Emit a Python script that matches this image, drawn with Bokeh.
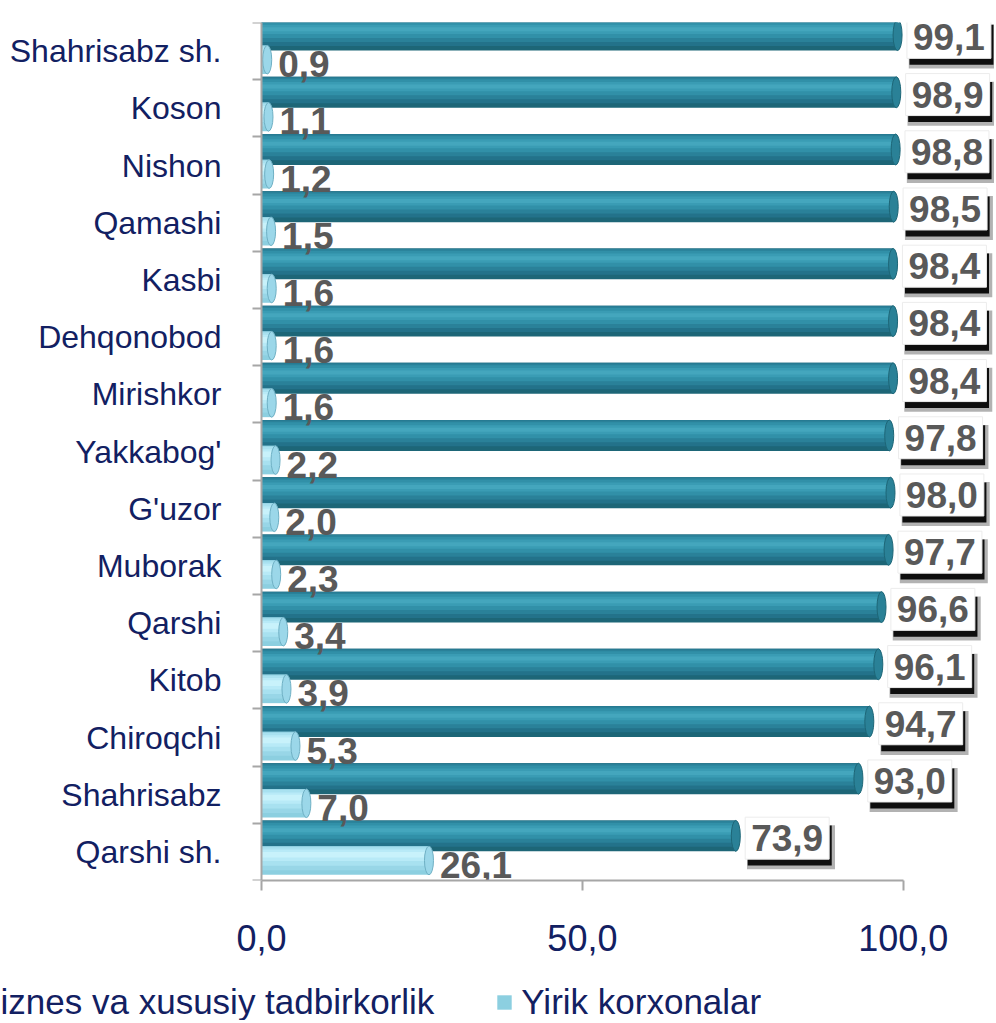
from bokeh.plotting import figure
from bokeh.models import (ColumnDataSource, Range1d, FixedTicker, LinearAxis, Legend, LegendItem)
from bokeh.layouts import column
from bokeh.transform import dodge
from bokeh.core.properties import value
from bokeh.embed import file_html
from bokeh.resources import INLINE

# ---------------- data ----------------
categories = ["Shahrisabz sh.", "Koson", "Nishon", "Qamashi", "Kasbi", "Dehqonobod", "Mirishkor",
              "Yakkabog'", "G'uzor", "Muborak", "Qarshi", "Kitob", "Chiroqchi", "Shahrisabz", "Qarshi sh."]
small_business = [99.1, 98.9, 98.8, 98.5, 98.4, 98.4, 98.4, 97.8, 98.0, 97.7, 96.6, 96.1, 94.7, 93.0, 73.9]
large_enterprises = [0.9, 1.1, 1.2, 1.5, 1.6, 1.6, 1.6, 2.2, 2.0, 2.3, 3.4, 3.9, 5.3, 7.0, 26.1]
series_names = ["Kichik biznes va xususiy tadbirkorlik", "Yirik korxonalar"]
x_ticks = [0, 50, 100]
x_tick_labels = ["0,0", "50,0", "100,0"]


def fmt(v):
    return f"{v:.1f}".replace(".", ",")


n = len(categories)
# first category at the top: row position counts down from n-1
row = [n - 1 - i for i in range(n)]

src = ColumnDataSource(dict(
    cat=categories,
    row=row,
    dark=small_business,
    light=large_enterprises,
    dark_lbl=[fmt(v) for v in small_business],
    light_lbl=[fmt(v) for v in large_enterprises],
))

FONT = value("Liberation Sans")
NAVY = "#122062"
GRAY_TXT = "#595959"
W = 994

# the frame spans the whole width; the value axis starts 261px in, room for the category names
p = figure(width=W, height=980, output_backend="svg", toolbar_location=None,
           y_range=Range1d(-0.5, n - 0.5), x_range=Range1d(-40.65, 114.2), y_axis_location=None,
           min_border_left=0, min_border_right=0, min_border_top=22, min_border_bottom=100)
p.outline_line_color = None
p.grid.visible = False
p.background_fill_color = "white"

DY = 0.28   # dark series offset within a row
LY = -0.15  # light series offset within a row


def dark_style(pl, s):
    base = pl.hbar(y=dodge("row", DY), left=0, right="dark", height=0.54, source=s,
                   fill_color="#1d6677", line_color=None)
    for dh, off, col in [(0.46, 0.04, "#23728a"), (0.38, 0.07, "#2a8199"),
                         (0.28, 0.09, "#3190a8"), (0.16, 0.10, "#3a9cb4"), (0.07, 0.10, "#44a6bd")]:
        pl.hbar(y=dodge("row", DY + off), left=0, right="dark", height=dh, source=s,
                fill_color=col, line_color=None)
    return base


def light_style(pl, s):
    base = pl.hbar(y=dodge("row", LY), left=0, right="light", height=0.50, source=s,
                   fill_color="#8ccfe0", line_color=None)
    for dh, off, col in [(0.42, 0.04, "#98d6e7"), (0.32, 0.07, "#a8e1f0"),
                         (0.20, 0.09, "#b8eaf7"), (0.10, 0.10, "#c8f2fb")]:
        pl.hbar(y=dodge("row", LY + off), left=0, right="light", height=dh, source=s,
                fill_color=col, line_color=None)
    return base


# ---- dark series (cylinder look, layered gradient) ----
dark_style(p, src)
p.ellipse(x="dark", y=dodge("row", DY), width=9, height=0.54, width_units="screen",
          source=src, fill_color="#2a8197", line_color="#1d6677", line_width=1)

# ---- light series ----
light_style(p, src)
p.ellipse(x="light", y=dodge("row", LY), width=9, height=0.50, width_units="screen",
          source=src, fill_color="#9bd7e9", line_color="#6fb0c4", line_width=1)

# ---- dark labels: white boxes with a shadow ----
BOX_Y = DY - 0.04
BX = 8.0
p.rect(x=dodge("dark", BX + 0.6), y=dodge("row", BOX_Y - 0.16), width=88, height=44,
       width_units="screen", height_units="screen", source=src,
       fill_color="black", fill_alpha=0.3, line_color=None)
p.rect(x=dodge("dark", BX + 0.4), y=dodge("row", BOX_Y - 0.13), width=84, height=40,
       width_units="screen", height_units="screen", source=src,
       fill_color="black", fill_alpha=0.92, line_color=None)
p.rect(x=dodge("dark", BX), y=dodge("row", BOX_Y), width=84, height=42,
       width_units="screen", height_units="screen", source=src,
       fill_color="white", line_color="#ececec", line_width=1)
p.text(x=dodge("dark", BX), y=dodge("row", BOX_Y), text="dark_lbl", source=src,
       text_align="center", text_baseline="middle", text_font=FONT, text_font_style="bold",
       text_font_size="37px", text_color=GRAY_TXT)

# ---- light labels ----
p.text(x="light", y=dodge("row", LY - 0.08), text="light_lbl", source=src, x_offset=11,
       text_align="left", text_baseline="middle", text_font=FONT, text_font_style="bold",
       text_font_size="37px", text_color=GRAY_TXT)

# ---- category names, right-aligned left of the value axis ----
p.text(x=0, y="row", text="cat", source=src, x_offset=-40, text_align="right",
       text_baseline="middle", text_font=FONT, text_font_size="32px", text_color=NAVY)

# ---- x axis ----
xa = p.xaxis[0]
xa.ticker = FixedTicker(ticks=x_ticks)
xa.major_label_overrides = {t: l for t, l in zip(x_ticks, x_tick_labels)}
xa.bounds = (0, 100)
xa.axis_line_color = "#a6a6a6"
xa.axis_line_width = 2
xa.major_tick_line_color = "#a6a6a6"
xa.major_tick_line_width = 2
xa.major_tick_out = 10
xa.major_tick_in = 0
xa.minor_tick_line_color = None
xa.major_label_standoff = 34
xa.major_label_text_font = "Liberation Sans"
xa.major_label_text_font_size = "36px"
xa.major_label_text_color = NAVY

# ---- category axis line at x = 0 with tick marks between rows ----
bounds_ticks = [k - 0.5 for k in range(n + 1)]
ta = LinearAxis(ticker=FixedTicker(ticks=bounds_ticks), fixed_location=0,
                major_label_standoff=0,
                axis_line_color="#a6a6a6", axis_line_width=2,
                major_tick_line_color="#a6a6a6", major_tick_line_width=2,
                major_tick_out=0, major_tick_in=9, minor_tick_line_color=None)
ta.major_label_overrides = {t: "" for t in bounds_ticks}
p.add_layout(ta, "right")

# ---- legend strip (its own small figure under the chart) ----
leg_src = ColumnDataSource(dict(row=[-10], dark=[0], light=[0]))
pl = figure(width=W, height=40, output_backend="svg", toolbar_location=None,
            x_range=Range1d(0, 1), y_range=Range1d(0, 1),
            x_axis_location=None, y_axis_location=None,
            min_border_left=0, min_border_right=0, min_border_top=0, min_border_bottom=0)
pl.outline_line_color = None
pl.grid.visible = False
r_dark = dark_style(pl, leg_src)
r_light = light_style(pl, leg_src)
legend = Legend(items=[LegendItem(label=series_names[0], renderers=[r_dark]),
                       LegendItem(label=series_names[1], renderers=[r_light])],
                orientation="horizontal", location=(-148, -2), padding=0, margin=0,
                spacing=61, glyph_width=18, glyph_height=18, label_standoff=8,
                label_text_font="Liberation Sans", label_text_font_size="35px",
                label_text_color=NAVY, border_line_color=None, background_fill_alpha=0)
pl.add_layout(legend)

layout = column(p, pl, spacing=0)
open("out.html", "w").write(file_html(layout, INLINE))
